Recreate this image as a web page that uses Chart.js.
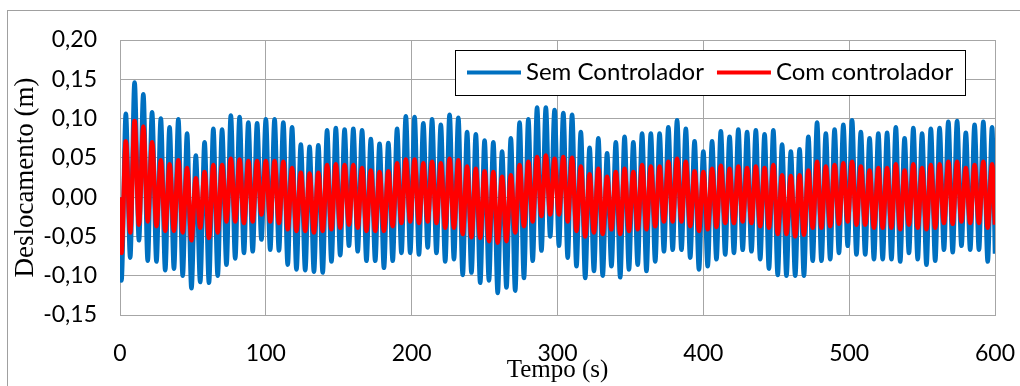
<!DOCTYPE html>
<html>
<head>
<meta charset="utf-8">
<script src="https://cdn.jsdelivr.net/npm/chart.js@4.4.1/dist/chart.umd.min.js"></script>
<style>
  html, body { margin: 0; padding: 0; background: #fff; }
  #wrap { width: 1020px; height: 386px; position: relative; }
</style>
</head>
<body>
<div id="wrap"><canvas id="grafico" width="1020" height="386"></canvas></div>
<script>
// Resposta em deslocamento (m) ao longo do tempo (s)
const rotulos = ['Sem Controlador', 'Com controlador'];
const ticksTempo = [0, 100, 200, 300, 400, 500, 600];
const ticksDesloc = [-0.15, -0.10, -0.05, 0.00, 0.05, 0.10, 0.15, 0.20];

// Extremos registados a cada meio ciclo (período de 6 s):
// vales em t = 1, 7, 13, ... s e picos em t = 4, 10, 16, ... s
const periodo = 6;
const tempoPrimeiroVale = 1;
const tempoPrimeiroPico = 4;

const semPicos = [
  0.106, 0.146, 0.131, 0.108, 0.100, 0.089, 0.099, 0.081, 0.053, 0.070,
  0.087, 0.086, 0.104, 0.102, 0.095, 0.094, 0.099, 0.099, 0.095, 0.089,
  0.067, 0.064, 0.066, 0.085, 0.088, 0.086, 0.087, 0.085, 0.074, 0.068,
  0.069, 0.087, 0.103, 0.102, 0.094, 0.099, 0.092, 0.105, 0.101, 0.083,
  0.080, 0.072, 0.070, 0.058, 0.075, 0.095, 0.099, 0.114, 0.114, 0.111,
  0.107, 0.105, 0.083, 0.063, 0.075, 0.056, 0.070, 0.077, 0.070, 0.081,
  0.081, 0.081, 0.089, 0.098, 0.087, 0.071, 0.058, 0.071, 0.084, 0.077,
  0.086, 0.083, 0.085, 0.080, 0.085, 0.067, 0.058, 0.061, 0.077, 0.095,
  0.081, 0.086, 0.092, 0.098, 0.083, 0.075, 0.081, 0.082, 0.089, 0.075,
  0.088, 0.081, 0.087, 0.088, 0.096, 0.097, 0.082, 0.092, 0.096, 0.089
];
const semVales = [
  -0.106, -0.077, -0.055, -0.081, -0.082, -0.093, -0.091, -0.100, -0.116, -0.108,
  -0.109, -0.100, -0.086, -0.078, -0.071, -0.069, -0.054, -0.067, -0.068, -0.086,
  -0.092, -0.093, -0.095, -0.096, -0.082, -0.074, -0.062, -0.069, -0.081, -0.081,
  -0.090, -0.081, -0.071, -0.071, -0.073, -0.064, -0.071, -0.082, -0.079, -0.099,
  -0.096, -0.109, -0.106, -0.122, -0.115, -0.119, -0.103, -0.081, -0.068, -0.050,
  -0.062, -0.077, -0.088, -0.103, -0.094, -0.100, -0.088, -0.102, -0.092, -0.086,
  -0.094, -0.082, -0.069, -0.067, -0.067, -0.077, -0.092, -0.088, -0.079, -0.073,
  -0.071, -0.067, -0.069, -0.079, -0.091, -0.099, -0.100, -0.100, -0.100, -0.081,
  -0.081, -0.079, -0.071, -0.062, -0.073, -0.073, -0.079, -0.079, -0.079, -0.082,
  -0.071, -0.079, -0.086, -0.081, -0.067, -0.070, -0.062, -0.067, -0.067, -0.082
];
const comPicos = [
  0.071, 0.097, 0.090, 0.070, 0.047, 0.042, 0.047, 0.037, 0.024, 0.032,
  0.041, 0.041, 0.049, 0.048, 0.046, 0.046, 0.046, 0.046, 0.045, 0.037,
  0.031, 0.030, 0.031, 0.041, 0.042, 0.041, 0.041, 0.037, 0.034, 0.032,
  0.033, 0.043, 0.048, 0.048, 0.043, 0.045, 0.043, 0.049, 0.047, 0.039,
  0.036, 0.033, 0.032, 0.026, 0.028, 0.041, 0.045, 0.051, 0.053, 0.049,
  0.051, 0.050, 0.039, 0.029, 0.036, 0.026, 0.032, 0.036, 0.032, 0.041,
  0.039, 0.039, 0.045, 0.049, 0.045, 0.033, 0.032, 0.036, 0.040, 0.036,
  0.039, 0.037, 0.039, 0.037, 0.041, 0.028, 0.027, 0.028, 0.034, 0.045,
  0.039, 0.041, 0.043, 0.045, 0.039, 0.034, 0.037, 0.037, 0.042, 0.034,
  0.042, 0.037, 0.041, 0.042, 0.045, 0.045, 0.037, 0.041, 0.045, 0.042
];
const comVales = [
  -0.071, -0.045, -0.035, -0.031, -0.037, -0.043, -0.043, -0.045, -0.055, -0.039,
  -0.052, -0.045, -0.031, -0.031, -0.033, -0.031, -0.022, -0.031, -0.033, -0.041,
  -0.043, -0.043, -0.045, -0.043, -0.041, -0.039, -0.035, -0.039, -0.043, -0.043,
  -0.043, -0.037, -0.033, -0.031, -0.033, -0.031, -0.033, -0.039, -0.039, -0.047,
  -0.051, -0.052, -0.056, -0.058, -0.056, -0.045, -0.037, -0.031, -0.024, -0.022,
  -0.022, -0.031, -0.043, -0.050, -0.045, -0.047, -0.041, -0.047, -0.043, -0.041,
  -0.041, -0.037, -0.031, -0.031, -0.031, -0.037, -0.043, -0.041, -0.038, -0.033,
  -0.033, -0.031, -0.033, -0.037, -0.039, -0.047, -0.047, -0.050, -0.048, -0.039,
  -0.039, -0.037, -0.034, -0.031, -0.035, -0.035, -0.039, -0.039, -0.039, -0.041,
  -0.035, -0.039, -0.041, -0.039, -0.033, -0.034, -0.031, -0.033, -0.033, -0.039
];
// valores no início e no fim do registo
const semInicio = 0.0, semFim = -0.072;
const comInicio = 0.0, comFim = -0.035;

// Monta a série (t, y) alternando vales e picos
function serie(inicio, vales, picos, fim) {
  const pts = [{ x: ticksTempo[0], y: inicio }];
  for (let k = 0; k < picos.length; k++) {
    pts.push({ x: tempoPrimeiroVale + k * periodo, y: vales[k] });
    pts.push({ x: tempoPrimeiroPico + k * periodo, y: picos[k] });
  }
  pts.push({ x: ticksTempo[ticksTempo.length - 1], y: fim });
  return pts;
}

const corGrade = '#a6a6a6';
const fonteEixo = { family: 'Lato', size: 23 };
const fmtDesloc = v => Number(v).toFixed(2).replace('.', ',');

// Moldura externa e fundo branco
const moldura = {
  id: 'moldura',
  beforeDraw(chart) {
    const ctx = chart.ctx;
    ctx.save();
    ctx.fillStyle = '#ffffff';
    ctx.fillRect(0, 0, chart.width, chart.height);
    ctx.strokeStyle = '#a0a0a0';
    ctx.lineWidth = 1;
    ctx.strokeRect(7.5, 10.5, chart.width + 10, chart.height + 10);
    ctx.restore();
  }
};

// Legenda em caixa, dentro da área do gráfico
const legendaCaixa = {
  id: 'legendaCaixa',
  afterDatasetsDraw(chart) {
    const ctx = chart.ctx;
    const box = { x: 455.5, y: 50.5, w: 510, h: 45 };
    ctx.save();
    ctx.fillStyle = '#ffffff';
    ctx.fillRect(box.x, box.y, box.w, box.h);
    ctx.strokeStyle = '#000000';
    ctx.lineWidth = 1;
    ctx.strokeRect(box.x, box.y, box.w, box.h);
    ctx.font = '24px Lato';
    ctx.textBaseline = 'middle';
    ctx.fillStyle = '#000000';
    const yc = box.y + 22;
    const amostra = 54;
    let x = 467;
    chart.data.datasets.forEach(ds => {
      ctx.strokeStyle = ds.borderColor;
      ctx.lineWidth = 4;
      ctx.beginPath();
      ctx.moveTo(x, yc);
      ctx.lineTo(x + amostra, yc);
      ctx.stroke();
      ctx.fillText(ds.label, x + amostra + 5, yc);
      x += amostra + 5 + ctx.measureText(ds.label).width + 13;
    });
    ctx.restore();
  }
};

new Chart(document.getElementById('grafico'), {
  type: 'line',
  data: {
    datasets: [
      {
        label: rotulos[0],
        data: serie(semInicio, semVales, semPicos, semFim),
        borderColor: '#0070C0',
        borderWidth: 4.5,
        pointRadius: 0,
        cubicInterpolationMode: 'monotone',
        order: 2
      },
      {
        label: rotulos[1],
        data: serie(comInicio, comVales, comPicos, comFim),
        borderColor: '#FF0000',
        borderWidth: 4.5,
        pointRadius: 0,
        cubicInterpolationMode: 'monotone',
        order: 1
      }
    ]
  },
  options: {
    responsive: false,
    animation: false,
    events: [],
    layout: { padding: { top: 40, right: 25, left: 0, bottom: 0 } },
    plugins: { legend: { display: false }, tooltip: { enabled: false } },
    scales: {
      x: {
        type: 'linear',
        min: ticksTempo[0],
        max: ticksTempo[ticksTempo.length - 1],
        afterBuildTicks: s => { s.ticks = ticksTempo.map(v => ({ value: v })); },
        afterFit: s => { s.height = 71; s.paddingLeft = 0; s.paddingRight = 0; },
        ticks: { autoSkip: false, maxRotation: 0, padding: 25, color: '#000', font: fonteEixo },
        grid: { color: corGrade, lineWidth: 1, drawTicks: false },
        border: { display: true, color: corGrade, width: 1 },
        title: {
          display: true, text: 'Tempo (s)', color: '#000',
          font: { family: 'Liberation Serif', size: 25, lineHeight: 1 },
          padding: { top: 0, bottom: 3 }
        }
      },
      y: {
        min: ticksDesloc[0],
        max: ticksDesloc[ticksDesloc.length - 1],
        afterBuildTicks: s => { s.ticks = ticksDesloc.map(v => ({ value: v })); },
        afterFit: s => { s.width = 120; },
        ticks: { padding: 23, color: '#000', font: fonteEixo, callback: fmtDesloc },
        grid: { color: corGrade, lineWidth: 1, drawTicks: false },
        border: { display: true, color: corGrade, width: 1 },
        title: {
          display: true, text: 'Deslocamento (m)', color: '#000',
          font: { family: 'Liberation Serif', size: 27, lineHeight: 1 },
          padding: { top: 12, bottom: 0 }
        }
      }
    }
  },
  plugins: [moldura, legendaCaixa]
});
</script>
</body>
</html>
